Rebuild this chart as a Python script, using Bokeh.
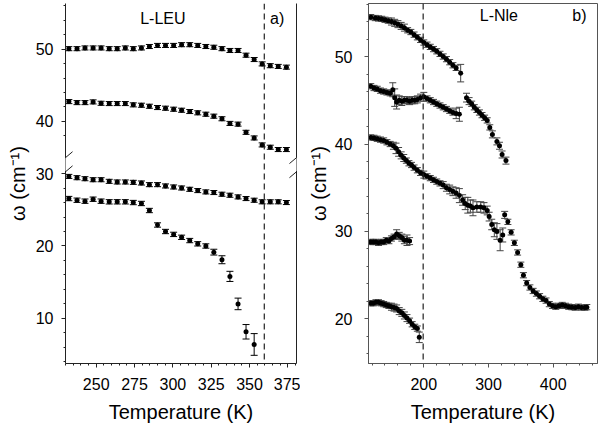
from bokeh.plotting import figure
from bokeh.models import (ColumnDataSource, Whisker, TeeHead, Span, Label, Arrow,
                          LinearAxis, FixedTicker, SingleIntervalTicker, Range1d)
from bokeh.layouts import row
from bokeh.embed import file_html
from bokeh.resources import INLINE

FONT = "Liberation Sans"

# ---------------- Panel a) L-LEU ----------------
leu_T = [232.2, 237.5, 242.7, 248.0, 253.2, 258.5, 263.7, 269.0, 274.2, 279.5,
         284.7, 290.0, 295.2, 300.5, 305.7, 311.0, 316.2, 321.5, 326.7, 332.0,
         337.2, 342.5, 347.7, 353.0, 358.2, 363.5, 368.7, 374.0]
leu_w1 = [50.05, 50.05, 50.15, 50.15, 50.15, 50.05, 50.05, 50.15, 50.05, 50.15,
          50.35, 50.5, 50.5, 50.5, 50.6, 50.6, 50.5, 50.35, 50.25, 50.05,
          49.8, 49.8, 49.15, 48.55, 47.95, 47.7, 47.6, 47.5]
leu_w2 = [42.74, 42.6, 42.6, 42.7, 42.51, 42.47, 42.47, 42.47, 42.29, 42.24,
          42.1, 41.92, 41.83, 41.69, 41.55, 41.37, 41.19, 41.0, 40.73, 40.37,
          39.73, 39.63, 38.5, 37.72, 36.76, 36.44, 36.12, 36.12]
leu_w3 = [29.61, 29.43, 29.29, 29.15, 29.15, 28.93, 28.84, 28.84, 28.79, 28.70,
          28.47, 28.47, 28.29, 28.15, 28.01, 27.83, 27.65, 27.47, 27.38, 27.15,
          27.01, 26.78, 26.55, 26.32, 26.10, 26.10, 26.10, 26.00]
leu_w4 = [26.55, 26.32, 26.19, 26.46, 26.19, 26.1, 26.1, 26.1, 26.0, 25.87,
          24.9, 22.9, 22.0, 21.6, 21.2, 20.75, 20.3, 20.0, 19.15, 18.1,
          15.8, 12.0, 8.15, 6.4]
leu_e4 = [0.3, 0.3, 0.3, 0.3, 0.3, 0.3, 0.3, 0.3, 0.3, 0.3,
          0.3, 0.3, 0.3, 0.3, 0.3, 0.3, 0.3, 0.3, 0.4, 0.55,
          0.7, 0.8, 1.0, 1.5]
leu_err = 0.28
leu_transition = 359.6
leu_break_shift = 2.8          # axis break: values above the break are drawn shifted down
leu_yticks_low = [10, 20, 30]
leu_yticks_high = [40, 50]
leu_yminor_low = [4, 6, 8, 12, 14, 16, 18, 22, 24, 26, 28]
leu_yminor_high = [38, 42, 44, 46, 48, 52, 54, 56]

# ---------------- Panel b) L-Nle ----------------
nle_Ta = [118, 125, 130, 135, 140, 145, 150, 155, 160, 165, 170, 175, 180, 185,
          190, 195, 200, 205, 210, 215, 220, 225, 230, 235, 240, 245, 250, 257]
nle_wa = [54.5, 54.4, 54.35, 54.3, 54.2, 54.1, 54.0, 53.85, 53.7, 53.5, 53.3, 53.0,
          52.8, 52.5, 52.2, 51.9, 51.6, 51.35, 51.1, 50.85, 50.6, 50.3, 50.0, 49.7,
          49.35, 49.0, 48.7, 48.1]
nle_ea = [0.3, 0.3, 0.3, 0.3, 0.3, 0.3, 0.4, 0.4, 0.4, 0.4, 0.4, 0.3, 0.3, 0.3,
          0.3, 0.3, 0.3, 0.3, 0.3, 0.3, 0.3, 0.3, 0.3, 0.3, 0.3, 0.3, 0.3, 1.0]

nle_Tb = [118, 123, 128, 133, 138, 143, 148, 152, 155, 158, 162, 166, 170, 174,
          178, 182, 186, 190, 195, 200, 205, 210, 215, 220, 225, 230, 235, 240,
          245, 250, 255]
nle_wb = [46.6, 46.4, 46.3, 46.1, 46.0, 45.9, 45.8, 46.2, 45.3, 44.8, 45.0, 44.9,
          45.0, 45.0, 44.9, 45.0, 45.0, 45.1, 45.3, 45.4, 45.2, 45.0, 44.8, 44.6,
          44.4, 44.2, 44.0, 43.8, 43.6, 43.5, 43.4]
nle_eb = [0.3, 0.3, 0.3, 0.3, 0.3, 0.3, 0.3, 0.8, 1.0, 0.8, 0.5, 0.5, 0.4, 0.4,
          0.4, 0.4, 0.4, 0.4, 0.4, 0.5, 0.3, 0.3, 0.3, 0.3, 0.3, 0.3, 0.3, 0.3,
          0.3, 0.6, 0.8]

nle_Tc = [266, 270, 274, 278, 282, 286, 290, 294, 298, 302, 306, 313, 317, 321, 327]
nle_wc = [45.3, 44.9, 44.6, 44.2, 43.9, 43.6, 43.3, 43.0, 42.7, 41.9, 41.1, 40.3,
          39.8, 38.8, 38.1]
nle_ec = [0.5, 0.4, 0.3, 0.3, 0.3, 0.3, 0.3, 0.3, 0.3, 0.3, 0.4, 0.4, 0.4, 0.4, 0.4]

nle_Td = [118, 123, 128, 133, 138, 143, 148, 153, 157, 161, 165, 169, 173, 177,
          181, 185, 190, 195, 200, 205, 210, 215, 220, 225, 230, 235, 240, 245,
          250, 255, 260, 264, 268, 272, 276, 282, 288, 293, 298, 301, 305, 309,
          313, 318, 322, 325, 330, 335, 340, 345, 350, 354, 359, 364, 369, 374,
          379, 384, 389, 394, 399, 404, 409, 414, 419, 424, 429, 434, 439, 444,
          449, 452]
nle_wd = [40.75, 40.7, 40.6, 40.5, 40.4, 40.2, 40.0, 39.8, 39.5, 39.1, 38.7, 38.4,
          38.1, 37.8, 37.6, 37.3, 37.0, 36.7, 36.5, 36.3, 36.1, 35.9, 35.7, 35.5,
          35.3, 35.0, 34.8, 34.6, 34.4, 34.1, 33.6, 33.2, 33.0, 32.9, 32.7, 32.8,
          32.8, 32.7, 32.4, 31.7, 30.8, 30.2, 30.0, 29.0, 29.6, 31.9, 31.1, 29.9,
          28.7, 27.6, 26.2, 25.0, 24.1, 23.6, 23.2, 22.9, 22.6, 22.3, 22.1, 21.7,
          21.5, 21.4, 21.5, 21.6, 21.5, 21.4, 21.35, 21.3, 21.4, 21.3, 21.3, 21.35]
nle_ed = [0.3, 0.3, 0.3, 0.3, 0.3, 0.3, 0.3,
          0.4, 0.6, 0.5, 0.4, 0.4, 0.3, 0.3, 0.3, 0.3,
          0.3, 0.3, 0.4, 0.3, 0.3, 0.3, 0.3, 0.3, 0.4, 0.4, 0.5, 0.5, 0.6, 0.8,
          0.6, 0.7, 0.9, 0.7, 0.9, 0.6, 0.6, 0.6, 0.5,
          0.5, 0.6, 0.8, 0.9, 1.2, 0.8, 0.4, 0.3, 0.3, 0.3, 0.3, 0.3, 0.3, 0.3,
          0.3, 0.3, 0.3, 0.3, 0.3, 0.3, 0.3, 0.3, 0.3, 0.3, 0.3, 0.3, 0.3, 0.3,
          0.3, 0.3, 0.3, 0.3, 0.3]

nle_Te = [118, 122, 126, 130, 134, 138, 142, 146, 150, 154, 158, 162, 166, 170, 174, 178]
nle_we = [28.8, 28.8, 28.8, 28.7, 28.8, 28.8, 29.0, 28.9, 29.2, 29.4, 29.7, 29.5,
          29.3, 29.0, 29.0, 28.9]
nle_ee = [0.3, 0.3, 0.3, 0.3, 0.3, 0.3, 0.3, 0.3, 0.3, 0.3, 0.5, 0.4, 0.4, 0.4, 0.6, 0.4]

nle_Tf = [118, 122, 126, 130, 134, 138, 142, 146, 150, 154, 158, 162, 166, 170,
          174, 178, 182, 186, 190, 193]
nle_wf = [21.8, 21.8, 21.9, 21.9, 21.8, 21.7, 21.6, 21.5, 21.4, 21.3, 21.2, 20.9,
          20.7, 20.4, 20.1, 19.8, 19.4, 19.1, 18.9, 17.9]
nle_ef = [0.3, 0.3, 0.3, 0.3, 0.3, 0.3, 0.3, 0.3, 0.4, 0.4, 0.4, 0.4, 0.4, 0.4,
          0.4, 0.3, 0.3, 0.3, 0.3, 0.6]
nle_transition = 199.0

YLABEL = "\u03c9 (cm\u207b\u00b9)"
XLABEL = "Temperature (K)"
LINE_A = "#222222"
LINE_B = "#555555"


def style_axis(ax, line, tick_standoff, label_standoff):
    ax.axis_line_color = line
    ax.axis_line_width = 1
    ax.major_tick_line_color = line
    ax.minor_tick_line_color = line
    ax.major_tick_out = 4
    ax.major_tick_in = 0
    ax.minor_tick_out = 2
    ax.minor_tick_in = 0
    ax.major_label_text_font = FONT
    ax.major_label_text_font_size = "16px"
    ax.major_label_text_color = "black"
    ax.major_label_standoff = tick_standoff
    ax.axis_label_text_font = FONT
    ax.axis_label_text_font_size = "20px"
    ax.axis_label_text_font_style = "normal"
    ax.axis_label_text_color = "black"
    ax.axis_label_standoff = label_standoff


def add_series(p, T, w, err, err_color):
    src = ColumnDataSource(dict(x=T, y=w,
                                lo=[a - e for a, e in zip(w, err)],
                                up=[a + e for a, e in zip(w, err)]))
    p.add_layout(Whisker(source=src, base="x", lower="lo", upper="up",
                         line_color=err_color, line_width=1,
                         lower_head=TeeHead(size=7, line_color=err_color, line_width=1),
                         upper_head=TeeHead(size=7, line_color=err_color, line_width=1)))
    p.scatter("x", "y", source=src, size=5, color="black", line_width=0)


def add_text(p, x, y, s):
    p.add_layout(Label(x=x, y=y, text=s, text_align="center", text_baseline="middle",
                       text_font=FONT, text_font_size="16px", text_color="black"))


# ---------------- build panel a ----------------
def shift_up(vals):
    return [v - leu_break_shift for v in vals]

pa = figure(width=300, height=425, x_range=Range1d(230.0, 380.6),
            y_range=Range1d(3.77, 53.49), output_backend="svg", toolbar_location=None,
            min_border_left=65, min_border_right=4, min_border_top=0, min_border_bottom=62)
pa.outline_line_color = None
pa.xgrid.visible = False
pa.ygrid.visible = False

add_series(pa, leu_T, shift_up(leu_w1), [leu_err] * len(leu_w1), "black")
add_series(pa, leu_T, shift_up(leu_w2), [leu_err] * len(leu_w2), "black")
add_series(pa, leu_T, leu_w3, [leu_err] * len(leu_w3), "black")
add_series(pa, leu_T[:len(leu_w4)], leu_w4, leu_e4, "black")

high_disp = shift_up(leu_yticks_high)
pa.yaxis.ticker = FixedTicker(ticks=leu_yticks_low + high_disp,
                              minor_ticks=leu_yminor_low + shift_up(leu_yminor_high))
pa.yaxis.major_label_overrides = {d: str(v) for d, v in zip(high_disp, leu_yticks_high)}
pa.xaxis.ticker = SingleIntervalTicker(interval=25, num_minor_ticks=5)
pa.yaxis.axis_label = YLABEL
pa.xaxis.axis_label = XLABEL
style_axis(pa.yaxis[0], LINE_A, 8, 4)
style_axis(pa.xaxis[0], LINE_A, 10, 8)

right_ax = LinearAxis(ticker=FixedTicker(ticks=[]), major_label_text_font_size="0px",
                      major_tick_out=0, minor_tick_out=0, axis_line_color=LINE_A)
pa.add_layout(right_ax, "right")

pa.add_layout(Span(location=leu_transition, dimension="height", line_color=LINE_A,
                   line_dash="6 4", line_width=1.2))

# axis-break marks on both vertical edges
gap_lo, gap_hi = 30.35, 32.2
sl_dx, sl_dy = 4.6, 0.82
for xe in (pa.x_range.start, pa.x_range.end):
    pa.add_layout(Arrow(x_start=xe, y_start=gap_lo, x_end=xe, y_end=gap_hi,
                        line_color="white", line_width=4, start=None, end=None))
    for yc in (gap_lo - 0.1, gap_hi):
        pa.add_layout(Arrow(x_start=xe - sl_dx, y_start=yc - sl_dy,
                            x_end=xe + sl_dx, y_end=yc + sl_dy,
                            line_color=LINE_A, line_width=1, start=None, end=None))

add_text(pa, 293.5, 51.4, "L-LEU")
add_text(pa, 368.0, 51.4, "a)")

# ---------------- build panel b ----------------
pb = figure(width=300, height=425, x_range=Range1d(114.5, 468.5),
            y_range=Range1d(14.91, 56.06), output_backend="svg", toolbar_location=None,
            min_border_left=68, min_border_right=3, min_border_top=3, min_border_bottom=62)
pb.outline_line_color = LINE_B
pb.xgrid.visible = False
pb.ygrid.visible = False

for T, w, e in ((nle_Ta, nle_wa, nle_ea), (nle_Tb, nle_wb, nle_eb),
                (nle_Tc, nle_wc, nle_ec), (nle_Td, nle_wd, nle_ed),
                (nle_Te, nle_we, nle_ee), (nle_Tf, nle_wf, nle_ef)):
    add_series(pb, T, w, e, "#444444")

pb.xaxis.ticker = SingleIntervalTicker(interval=100, num_minor_ticks=5)
pb.yaxis.ticker = SingleIntervalTicker(interval=10, num_minor_ticks=5)
pb.yaxis.axis_label = YLABEL
pb.xaxis.axis_label = XLABEL
style_axis(pb.yaxis[0], LINE_B, 12, 2)
style_axis(pb.xaxis[0], LINE_B, 10, 8)

pb.add_layout(Span(location=nle_transition, dimension="height", line_color=LINE_A,
                   line_dash="6 4", line_width=1.2))
add_text(pb, 316.0, 54.65, "L-Nle")
add_text(pb, 440.6, 54.65, "b)")

layout = row(pa, pb)
open("out.html", "w").write(file_html(layout, INLINE))
